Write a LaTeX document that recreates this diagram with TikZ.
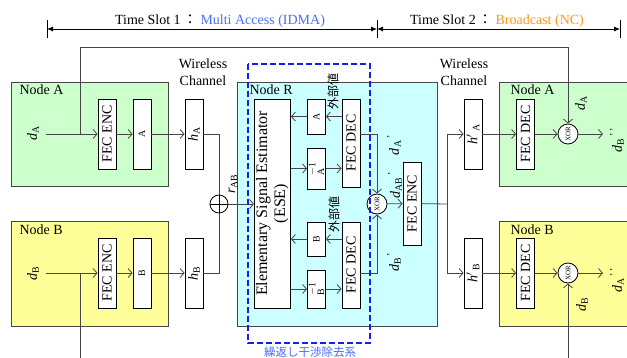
\documentclass[tikz,border=0pt]{standalone}
\usepackage{fontspec}
\setmainfont{Liberation Serif}
\newfontfamily\jpfont{Noto Sans CJK JP}
\usetikzlibrary{arrows.meta,calc,positioning}

\definecolor{ngreen}{RGB}{204,255,204}
\definecolor{nyellow}{RGB}{255,255,153}
\definecolor{ncyan}{RGB}{204,255,255}
\definecolor{lnkgray}{RGB}{70,70,70}
\definecolor{slotblue}{RGB}{70,110,255}
\definecolor{slotorange}{RGB}{255,150,20}
\definecolor{iterblue}{RGB}{20,30,240}

\newcommand{\dd}[1]{\textit{d}\textsubscript{#1}}
\newcommand{\vtext}[1]{\rotatebox{90}{#1}}

\tikzset{
  every node/.style={font=\fontsize{14}{17}\selectfont},
  region/.style={draw=lnkgray, line width=0.8pt},
  blk/.style={draw, fill=white, line width=0.8pt, minimum width=18pt, inner sep=0pt},
  xorc/.style={draw, fill=white, circle, line width=0.8pt, minimum size=20pt, inner sep=0pt,
    font=\fontsize{7}{8}\selectfont},
  lbl/.style={rotate=90, inner sep=1pt},
  link/.style={draw=lnkgray, line width=0.8pt},
  arr/.style={link, -{Straight Barb[length=4pt,width=9pt]}},
  slot/.style={line width=0.8pt, {Latex[length=6pt,width=5pt]}-{Latex[length=6pt,width=5pt]}},
}

\begin{document}
\begin{tikzpicture}[x=1pt,y=-1pt]
  \useasboundingbox (0,0) rectangle (627,358);
  \clip (0,0) rectangle (627,358);

  % time slots
  \draw[line width=0.8pt] (47,20) -- (47,38) (377,20) -- (377,38) (620,20) -- (620,38);
  \draw[slot] (47,29) -- (377,29);
  \draw[slot] (377,29) -- (620,29);
  \node (ts1) at (220,21) {Time Slot 1\,{\jpfont ：}\ \textcolor{slotblue}{Multi Access (IDMA)}};
  \node (ts2) at (497,21) {Time Slot 2\,{\jpfont ：}\ \textcolor{slotorange}{Broadcast (NC)}};

  % nodes A, B (sources), R (relay), A, B (sinks)
  \filldraw[region, fill=ngreen] (11,82) rectangle (168,186);
  \filldraw[region, fill=nyellow] (11,221) rectangle (168,326);
  \filldraw[region, fill=ncyan] (237,82) rectangle (437,326);
  \filldraw[region, fill=ngreen] (499,82) rectangle (660,186);
  \filldraw[region, fill=nyellow] (499,221) rectangle (660,326);
  \node[anchor=west] (nameA) at (16,90) {Node A};
  \node[anchor=west] (nameB) at (16,230) {Node B};
  \node[anchor=west] (nameR) at (246,90) {Node R};
  \node[anchor=west] (nameA2) at (507,90) {Node A};
  \node[anchor=west] (nameB2) at (507,230) {Node B};

  \node[align=center] (wl1) at (203,72) {Wireless\\Channel};
  \node[align=center] (wl2) at (464,72) {Wireless\\Channel};

  % uplink
  \node[lbl] (dA) at (33,133) {\dd{A}};
  \node[lbl] (dB) at (33,273) {\dd{B}};
  \node[blk, minimum height=70pt] (encA) at (107,134) {\vtext{FEC ENC}};
  \node[blk, minimum height=70pt] (piA) at (142,134) {\vtext{\textsubscript{A}}};
  \node[blk, minimum height=70pt] (hA) at (194,134) {\vtext{\textit{h}\textsubscript{A}}};
  \node[blk, minimum height=70pt] (encB) at (107,273) {\vtext{FEC ENC}};
  \node[blk, minimum height=70pt] (piB) at (142,273) {\vtext{\textsubscript{B}}};
  \node[blk, minimum height=70pt] (hB) at (194,273) {\vtext{\textit{h}\textsubscript{B}}};
  \node[draw, circle, line width=0.8pt, minimum size=18pt, inner sep=0pt] (add) at (219,204) {};
  \draw[line width=0.8pt] (add.north) -- (add.south) (add.west) -- (add.east);
  \node[lbl] (rAB) at (233,184) {\textit{r}\textsubscript{AB}};

  \coordinate (inA) at (46,134);
  \coordinate (inB) at (46,273);
  \coordinate (tapA) at (80,134);
  \coordinate (tapB) at (80,273);
  \draw[arr] (inA) -- (encA);
  \draw[arr] (encA) -- (piA);
  \draw[arr] (piA) -- (hA);
  \draw[link] (hA.east) -| (add.north);
  \draw[arr] (inB) -- (encB);
  \draw[arr] (encB) -- (piB);
  \draw[arr] (piB) -- (hB);
  \draw[link] (hB.east) -| (add.south);

  % relay
  \node[blk, minimum width=35pt, minimum height=209pt, align=center,
    font=\fontsize{16}{18}\selectfont] (ese) at (272.5,203.5)
    {\vtext{\begin{tabular}{@{}c@{}}Elementary Signal Estimator\\(ESE)\end{tabular}}};
  \node[blk, minimum height=35pt] (piRA) at (316.5,116.5) {\vtext{\textsubscript{A}}};
  \node[blk, minimum height=41pt] (ipiRA) at (316.5,168.5) {\vtext{$^{-1}_{\mathrm{A}}$}};
  \node[blk, minimum height=88pt] (decRA) at (351,143) {\vtext{FEC DEC}};
  \node[blk, minimum height=34pt] (piRB) at (316.5,239) {\vtext{\textsubscript{B}}};
  \node[blk, minimum height=38pt] (ipiRB) at (316.5,289) {\vtext{$^{-1}_{\mathrm{B}}$}};
  \node[blk, minimum height=86pt] (decRB) at (351,265) {\vtext{FEC DEC}};
  \node[xorc] (xorR) at (377,204) {\vtext{XOR}};
  \node[blk, minimum height=83pt] (encR) at (412,203.5) {\vtext{FEC ENC}};
  \node[lbl, font=\jpfont\fontsize{12}{14}\selectfont] (extA) at (333,92) {外部値};
  \node[lbl, font=\jpfont\fontsize{12}{14}\selectfont] (extB) at (334,215) {外部値};
  \node[lbl] (dAp) at (394,145) {\dd{A}\textsuperscript{\,'}};
  \node[lbl] (dABp) at (395,185) {\dd{AB}\textsuperscript{\,'}};
  \node[lbl] (dBp) at (394,262) {\dd{B}\textsuperscript{\,'}};

  \draw[arr] (add) -- (add -| ese.west);
  \draw[arr] (decRA.west |- piRA) -- (piRA);
  \draw[arr] (piRA) -- (piRA -| ese.east);
  \draw[arr] (ese.east |- ipiRA) -- (ipiRA);
  \draw[arr] (ipiRA) -- (ipiRA -| decRA.west);
  \draw[arr] (decRB.west |- piRB) -- (piRB);
  \draw[arr] (piRB) -- (piRB -| ese.east);
  \draw[arr] (ese.east |- ipiRB) -- (ipiRB);
  \draw[arr] (ipiRB) -- (ipiRB -| decRB.west);
  \draw[arr] ($(decRA.east)+(0,-9)$) -| (xorR.north);
  \draw[arr] ($(decRB.east)+(0,8)$) -| (xorR.south);
  \draw[arr] (xorR) -- (encR);

  % iterative cancellation loop
  \draw[iterblue, line width=1.6pt, dash pattern=on 6pt off 3pt] (248,64) rectangle (370,343);
  \node[font=\jpfont\fontsize{11.5}{13}\selectfont, text=slotblue] (iter) at (310,352) {繰返し干渉除去系};

  % downlink
  \coordinate (split) at (447,204);
  \node[blk, minimum height=70pt] (hpA) at (473,134) {\vtext{\textit{h}$'$\,\textsubscript{A}}};
  \node[blk, minimum height=70pt] (hpB) at (473,273) {\vtext{\textit{h}$'$\,\textsubscript{B}}};
  \node[blk, minimum height=70pt] (decA) at (525.5,134) {\vtext{FEC DEC}};
  \node[blk, minimum height=70pt] (decB) at (525.5,273) {\vtext{FEC DEC}};
  \node[xorc] (xorA) at (568,134) {\vtext{XOR}};
  \node[xorc] (xorB) at (568,273) {\vtext{XOR}};
  \node[lbl] (dA2) at (581,103) {\dd{A}};
  \node[lbl] (dB2) at (582,304) {\dd{B}};
  \node[lbl] (dBpp) at (617,140) {\dd{B}\textsuperscript{\,'\,'}};
  \node[lbl] (dApp) at (617,280) {\dd{A}\textsuperscript{\,'\,'}};
  \coordinate (outA) at (603,134);
  \coordinate (outB) at (603,273);

  \draw[link] (encR) -- (split);
  \draw[arr] (split) |- (hpA);
  \draw[arr] (split) |- (hpB);
  \draw[arr] (hpA) -- (decA);
  \draw[arr] (decA) -- (xorA);
  \draw[arr] (xorA) -- (outA);
  \draw[arr] (hpB) -- (decB);
  \draw[arr] (decB) -- (xorB);
  \draw[arr] (xorB) -- (outB);

  % own data fed forward to the sinks
  \coordinate (topL) at (80,47);
  \coordinate (topR) at (568,47);
  \coordinate (botL) at (80,362);
  \coordinate (botR) at (568,362);
  \draw[arr] (tapA) -- (topL) -- (topR) -- (xorA);
  \draw[link] (tapB) -- (botL);
  \draw[arr] (botR) -- (xorB);
\end{tikzpicture}
\end{document}
